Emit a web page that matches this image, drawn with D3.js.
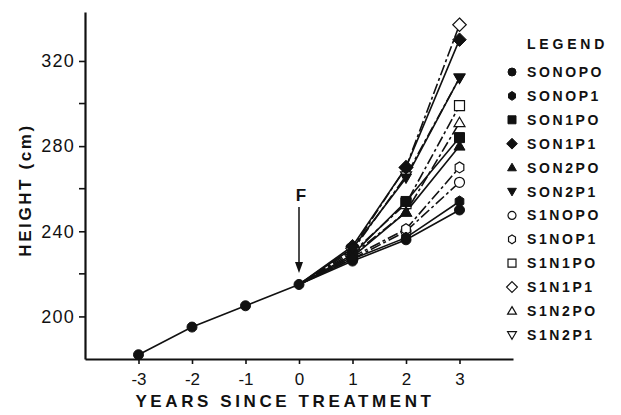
<!DOCTYPE html>
<html>
<head>
<meta charset="utf-8">
<script src="https://cdn.jsdelivr.net/npm/d3@7"></script>
<style>
  body { margin: 0; background: #fff; }
  text { font-family: "Liberation Sans", Arial, sans-serif; fill: #111; }
</style>
</head>
<body>
<svg id="chart" width="621" height="415"></svg>
<script>
// pre-treatment (shared) curve
const preYears = [-3, -2, -1, 0];
const preHeights = [182, 195, 205, 215];

// post-treatment years, each series starts at year 0
const postYears = [0, 1, 2, 3];
const seriesNames = ["SONOPO", "SONOP1", "SON1PO", "SON1P1", "SON2PO", "SON2P1",
                     "S1NOPO", "S1NOP1", "S1N1PO", "S1N1P1", "S1N2PO", "S1N2P1"];
const seriesValues = [
  [215, 226, 236, 250],
  [215, 227, 237, 254],
  [215, 229, 254, 284],
  [215, 233, 270, 330],
  [215, 228, 249, 280],
  [215, 232, 265, 312],
  [215, 227, 240, 263],
  [215, 228, 241, 270],
  [215, 230, 253, 299],
  [215, 232, 270, 337],
  [215, 229, 249, 291],
  [215, 231, 266, 312]
];
const seriesShapes = ["circle", "hexagon", "square", "diamond", "up", "down",
                      "circle", "hexagon", "square", "diamond", "up", "down"];
const seriesFilled = [true, true, true, true, true, true,
                      false, false, false, false, false, false];

const xTicks = [-3, -2, -1, 0, 1, 2, 3];
const yTicksMajor = [200, 240, 280, 320];
const yTicksMinor = [220, 260, 300];

const svg = d3.select("#chart");

const x = d3.scaleLinear().domain([-4, 4]).range([85, 513]);
const y = d3.scaleLinear().domain([180, 343]).range([359, 12]);

// marker shape paths, s = half-width
function circlePath(s) {
  return `M${s},0A${s},${s} 0 1,1 ${-s},0A${s},${s} 0 1,1 ${s},0Z`;
}

function shapePath(kind, s) {
  if (kind === "circle") return circlePath(s);
  if (kind === "hexagon") {
    const pts = d3.range(6).map(i => {
      const a = Math.PI / 3 * i + Math.PI / 6;
      return [s * Math.cos(a), s * 1.1 * Math.sin(a)];
    });
    return "M" + pts.map(p => p.join(",")).join("L") + "Z";
  }
  if (kind === "square") {
    return `M${-s},${-s}L${s},${-s}L${s},${s}L${-s},${s}Z`;
  }
  if (kind === "diamond") {
    const d = s * 1.35;
    return `M0,${-d}L${d},0L0,${d}L${-d},0Z`;
  }
  if (kind === "up") {
    return `M0,${-s * 1.1}L${s * 1.1},${s * 0.8}L${-s * 1.1},${s * 0.8}Z`;
  }
  return `M0,${s * 1.1}L${s * 1.1},${-s * 0.8}L${-s * 1.1},${-s * 0.8}Z`;
}

function drawMarker(g, kind, filled, cx, cy, s) {
  g.append("path")
    .attr("d", shapePath(kind, s))
    .attr("transform", `translate(${cx},${cy})`)
    .attr("fill", filled ? "#111" : "#fff")
    .attr("stroke", "#111")
    .attr("stroke-width", filled ? 1 : 1.2);
}

// axes
const xAxis = svg.append("g")
  .attr("transform", `translate(0,${y(180)})`)
  .call(d3.axisBottom(x).tickValues(xTicks).tickSize(5).tickSizeOuter(0)
    .tickFormat(d => String(d)));
xAxis.select(".domain").attr("stroke-width", 2.2).attr("stroke", "#111");
xAxis.selectAll(".tick line").attr("stroke-width", 1.6).attr("stroke", "#111");
xAxis.selectAll(".tick text")
  .attr("dy", 0).attr("y", 26)
  .style("font-size", "17px").style("fill", "#111");

const yAxis = svg.append("g")
  .attr("transform", `translate(${x(-4)},0)`)
  .call(d3.axisLeft(y).tickValues(yTicksMajor).tickSize(6).tickSizeOuter(0));
yAxis.select(".domain").attr("stroke-width", 2.2).attr("stroke", "#111");
yAxis.selectAll(".tick line").attr("stroke-width", 1.6).attr("stroke", "#111");
yAxis.selectAll(".tick text")
  .attr("x", -10)
  .style("font-size", "18px").style("letter-spacing", "1.2px").style("fill", "#111");

svg.append("g")
  .selectAll("line")
  .data(yTicksMinor)
  .enter().append("line")
  .attr("x1", x(-4) - 6).attr("x2", x(-4))
  .attr("y1", d => y(d)).attr("y2", d => y(d))
  .attr("stroke", "#111").attr("stroke-width", 1.6);

// axis titles
svg.append("text")
  .attr("x", 285).attr("y", 407)
  .attr("text-anchor", "middle")
  .style("font-size", "17px").style("font-weight", "bold").style("letter-spacing", "3.6px")
  .text("YEARS SINCE TREATMENT");

svg.append("text")
  .attr("transform", "translate(31,190) rotate(-90)")
  .attr("text-anchor", "middle")
  .style("font-size", "17px").style("font-weight", "bold").style("letter-spacing", "2.6px")
  .text("HEIGHT (cm)");

// fertilisation arrow
svg.append("text")
  .attr("x", x(0) + 2).attr("y", 201)
  .attr("text-anchor", "middle")
  .style("font-size", "17px").style("font-weight", "bold")
  .text("F");
svg.append("line")
  .attr("x1", x(0)).attr("x2", x(0))
  .attr("y1", 207).attr("y2", 264)
  .attr("stroke", "#111").attr("stroke-width", 1.5);
svg.append("path")
  .attr("d", `M${x(0) - 4},${262}L${x(0) + 4},${262}L${x(0)},${273}Z`)
  .attr("fill", "#111");

const line = d3.line().x(d => x(d[0])).y(d => y(d[1]));

// shared pre-treatment line
const pre = preYears.map((t, i) => [t, preHeights[i]]);
svg.append("path")
  .attr("d", line(pre))
  .attr("fill", "none").attr("stroke", "#111").attr("stroke-width", 1.6);

// series lines (open series first so filled ones sit on top)
const order = d3.range(seriesNames.length).sort((a, b) => seriesFilled[a] - seriesFilled[b]);
const linesG = svg.append("g");
order.forEach(i => {
  const pts = postYears.map((t, j) => [t, seriesValues[i][j]]);
  linesG.append("path")
    .attr("d", line(pts))
    .attr("fill", "none")
    .attr("stroke", "#111")
    .attr("stroke-width", 1.6)
    .attr("stroke-dasharray", seriesFilled[i] ? null : "11,3,3,3");
});

// markers
const markG = svg.append("g");
pre.forEach(p => drawMarker(markG, "circle", true, x(p[0]), y(p[1]), 5));
order.forEach(i => {
  postYears.forEach((t, j) => {
    if (t === 0) return;
    drawMarker(markG, seriesShapes[i], seriesFilled[i], x(t), y(seriesValues[i][j]), 5);
  });
});

// legend
const legG = svg.append("g");
legG.append("text")
  .attr("x", 527).attr("y", 49)
  .style("font-size", "14px").style("font-weight", "bold").style("letter-spacing", "3.8px")
  .text("LEGEND");
seriesNames.forEach((name, i) => {
  const ly = 72 + i * 23.9;
  drawMarker(legG, seriesShapes[i], seriesFilled[i], 512, ly, 4);
  legG.append("text")
    .attr("x", 527).attr("y", ly + 5)
    .style("font-size", "14px").style("font-weight", "bold").style("letter-spacing", "2.6px")
    .text(name);
});
</script>
</body>
</html>
